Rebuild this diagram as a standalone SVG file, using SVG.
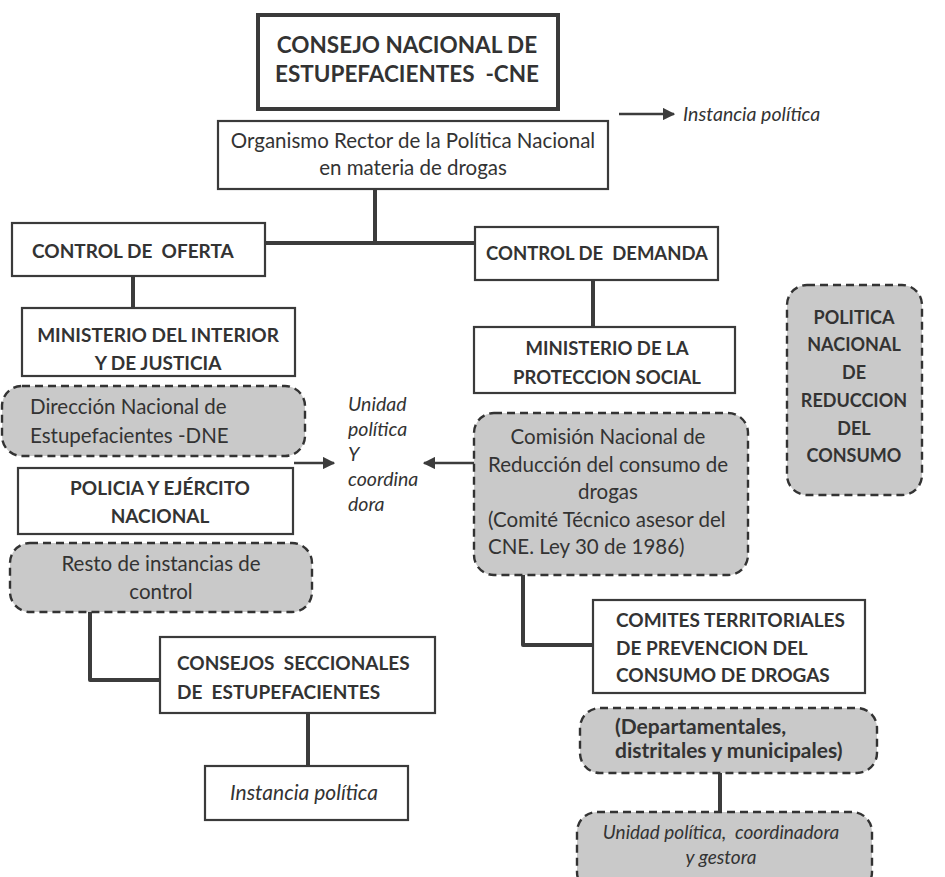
<svg xmlns="http://www.w3.org/2000/svg" width="945" height="877" viewBox="0 0 945 877" xml:space="preserve">
<defs>
<style>
text{font-family:Lato,"Open Sans","Liberation Sans",sans-serif;fill:#333;font-size:20.5px;white-space:pre}
.b{font-weight:bold;font-size:19px}
.i{font-style:italic;font-size:19.5px}
.m{text-anchor:middle}
.box{fill:#fff;stroke:#3a3a3a;stroke-width:2.2}
.dash{fill:#c9c9c9;stroke:#333;stroke-width:2.4;stroke-dasharray:8 5}
.ln{stroke:#3c3c3c;stroke-width:4;fill:none;stroke-linejoin:round}
.ar{stroke:#3c3c3c;stroke-width:2.5;fill:none}
</style>
<marker id="ah" viewBox="0 0 10 10" refX="9" refY="5" markerWidth="5" markerHeight="5" orient="auto" markerUnits="strokeWidth">
<path d="M0,0 L10,5 L0,10 z" fill="#3c3c3c"/>
</marker>
</defs>
<rect width="945" height="877" fill="#fff"/>
<g id="connectors">
<path class="ln" d="M375,189 V243"/>
<path class="ln" d="M265,243 H476"/>
<path class="ln" d="M133,276 V309"/>
<path class="ln" d="M593,280 V327"/>
<path class="ln" d="M90,612 V680 H160"/>
<path class="ln" d="M308,713 V766"/>
<path class="ln" d="M523,575 V645 H593"/>
<path class="ln" d="M720,773 V812"/>
<path class="ar" d="M619,114 H674" marker-end="url(#ah)"/>
<path class="ar" d="M294,463 H334" marker-end="url(#ah)"/>
<path class="ar" d="M474,463 H424" marker-end="url(#ah)"/>
</g>
<g id="cne">
<rect x="258" y="15" width="300" height="94" fill="#fff" stroke="#3a3a3a" stroke-width="4"/>
<text class="b m" x="407" y="53" style="font-size:22.5px">CONSEJO NACIONAL DE</text>
<text class="b m" x="407" y="82" style="font-size:22.5px">ESTUPEFACIENTES  -CNE</text>
</g>
<g id="organismo">
<rect class="box" x="218" y="121" width="390" height="68"/>
<text class="m" x="413" y="148">Organismo Rector de la Política Nacional</text>
<text class="m" x="413" y="175">en materia de drogas</text>
</g>
<g id="instancia-top">
<text class="i" x="683" y="121">Instancia política</text>
</g>
<g id="control-oferta">
<rect class="box" x="12" y="223" width="253" height="53"/>
<text class="b" x="32" y="258">CONTROL DE  OFERTA</text>
</g>
<g id="ministerio-interior">
<rect class="box" x="22" y="308" width="273" height="68"/>
<text class="b m" x="158" y="342">MINISTERIO DEL INTERIOR</text>
<text class="b m" x="158" y="370">Y DE JUSTICIA</text>
</g>
<g id="dne">
<rect class="dash" x="2" y="386" width="303" height="70" rx="20"/>
<text x="30" y="414">Dirección Nacional de</text>
<text x="30" y="443">Estupefacientes -DNE</text>
</g>
<g id="unidad-label">
<text class="i" x="348" y="411">Unidad</text>
<text class="i" x="348" y="436">política</text>
<text class="i" x="348" y="461">Y</text>
<text class="i" x="348" y="486">coordina</text>
<text class="i" x="348" y="511">dora</text>
</g>
<g id="policia">
<rect class="box" x="18" y="468" width="275" height="66"/>
<text class="b m" x="160" y="495">POLICIA Y EJÉRCITO</text>
<text class="b m" x="160" y="523">NACIONAL</text>
</g>
<g id="resto">
<rect class="dash" x="10" y="543" width="302" height="69" rx="20"/>
<text class="m" x="161" y="571">Resto de instancias de</text>
<text class="m" x="161" y="599">control</text>
</g>
<g id="consejos">
<rect class="box" x="160" y="637" width="275" height="76"/>
<text class="b" x="177" y="670">CONSEJOS  SECCIONALES</text>
<text class="b" x="177" y="699">DE  ESTUPEFACIENTES</text>
</g>
<g id="instancia-bottom">
<rect class="box" x="205" y="766" width="203" height="54"/>
<text class="i m" x="304" y="800" style="font-size:21px">Instancia política</text>
</g>
<g id="control-demanda">
<rect class="box" x="475" y="227" width="243" height="53"/>
<text class="b m" x="597" y="260" style="font-size:18.5px">CONTROL DE  DEMANDA</text>
</g>
<g id="ministerio-proteccion">
<rect class="box" x="474" y="327" width="261" height="66"/>
<text class="b m" x="607" y="355" style="font-size:18.5px">MINISTERIO DE LA</text>
<text class="b m" x="607" y="384" style="font-size:18.5px">PROTECCION SOCIAL</text>
</g>
<g id="comision">
<rect class="dash" x="474" y="413" width="274" height="162" rx="20"/>
<text class="m" x="608" y="444">Comisión Nacional de</text>
<text class="m" x="608" y="472">Reducción del consumo de</text>
<text class="m" x="608" y="499">drogas</text>
<text x="488" y="527">(Comité Técnico asesor del</text>
<text x="488" y="554">CNE. Ley 30 de 1986)</text>
</g>
<g id="politica-nacional">
<rect class="dash" x="787" y="285" width="135" height="210" rx="20"/>
<text class="b m" x="854" y="324" style="font-size:18px">POLITICA</text>
<text class="b m" x="854" y="351" style="font-size:18px">NACIONAL</text>
<text class="b m" x="854" y="379" style="font-size:18px">DE</text>
<text class="b m" x="854" y="407" style="font-size:18px">REDUCCION</text>
<text class="b m" x="854" y="435" style="font-size:18px">DEL</text>
<text class="b m" x="854" y="462" style="font-size:18px">CONSUMO</text>
</g>
<g id="comites">
<rect class="box" x="593" y="600" width="272" height="93"/>
<text class="b" x="616" y="627">COMITES TERRITORIALES</text>
<text class="b" x="616" y="655">DE PREVENCION DEL</text>
<text class="b" x="616" y="682">CONSUMO DE DROGAS</text>
</g>
<g id="departamentales">
<rect class="dash" x="580" y="708" width="297" height="65" rx="20"/>
<text class="b" x="615" y="734" style="font-size:21px">(Departamentales,</text>
<text class="b" x="615" y="758" style="font-size:21px">distritales y municipales)</text>
</g>
<g id="unidad-gestora">
<rect class="dash" x="577" y="812" width="295" height="80" rx="20"/>
<text class="i m" x="721" y="839" style="font-size:19px">Unidad política,  coordinadora</text>
<text class="i m" x="721" y="864" style="font-size:19px">y gestora</text>
</g>
</svg>
